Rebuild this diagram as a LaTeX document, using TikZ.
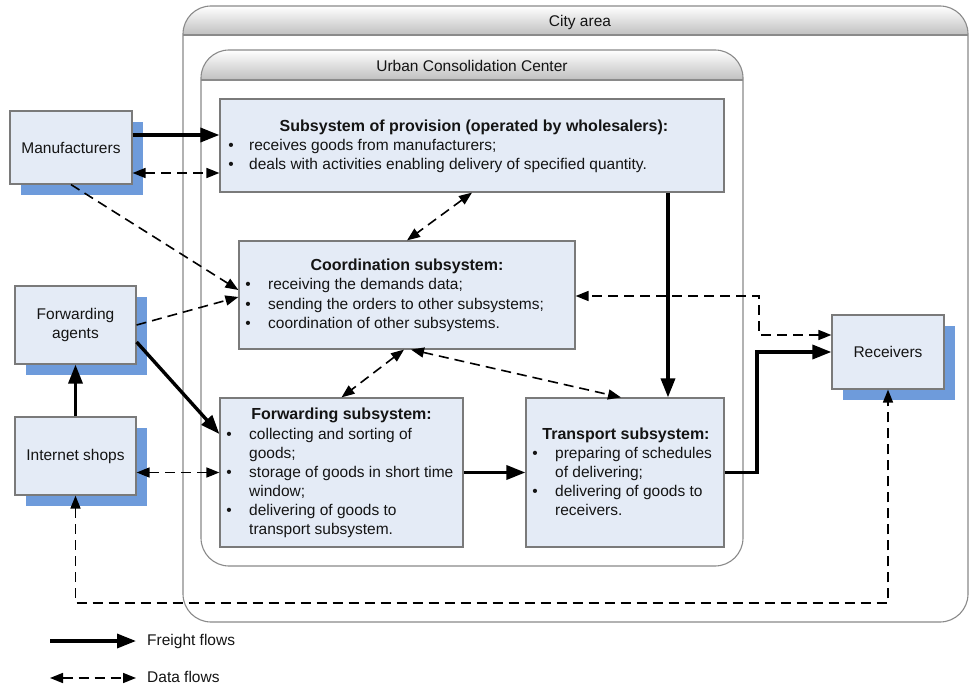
\documentclass[tikz,border=0pt]{standalone}
\usepackage{fontspec}
\setmainfont{Liberation Sans}
\usetikzlibrary{arrows.meta,shadows,calc}
\definecolor{boxfill}{HTML}{E4EBF6}
\definecolor{boxline}{HTML}{7A7A7A}
\definecolor{shadowblue}{HTML}{6E9BDB}
\definecolor{txt}{HTML}{141414}
\definecolor{frameline}{HTML}{8A8A8A}
\begin{document}
\begin{tikzpicture}[x=1pt,y=-1pt,
  font=\fontsize{15.5}{19}\selectfont, text=txt,
  box/.style={draw=boxline, fill=boxfill, line width=1.2pt, inner sep=0pt},
  ext/.style={box, align=center, drop shadow={shadow xshift=11pt, shadow yshift=-11pt, fill=shadowblue, opacity=1}},
  freight/.style={line width=3.4pt, -{Triangle[length=19pt,width=14pt]}},
  data/.style={line width=1.6pt, dash pattern=on 10pt off 6pt, {Triangle[length=13pt,width=10pt]}-{Triangle[length=13pt,width=10pt]}},
  data1/.style={line width=1.6pt, dash pattern=on 10pt off 6pt, -{Triangle[length=13pt,width=10pt]}},
  frame/.style={draw=frameline, line width=1.1pt},
  lbl/.style={anchor=base west, inner sep=0pt},
  ttl/.style={anchor=base, inner sep=0pt, font=\fontsize{16}{19}\selectfont\bfseries},
  bul/.style={anchor=base, inner sep=0pt},
  hdr/.style={anchor=base, inner sep=0pt},
]
\useasboundingbox (0,0) rectangle (970,687);
\fill[white] (0,0) rectangle (970,687);

% City area frame
\begin{scope}
  \clip[rounded corners=28pt] (183,6) rectangle (968,622);
  \shade[top color=white, bottom color=gray!50] (183,6) rectangle (968,35);
\end{scope}
\draw[frame] (183,35) -- (968,35);
\draw[frame, rounded corners=28pt] (183,6) rectangle (968,622);
\node[hdr] (cityT) at (580,27) {City area};

% Urban Consolidation Center frame
\begin{scope}
  \clip[rounded corners=28pt] (201,50) rectangle (743,566);
  \shade[top color=white, bottom color=gray!50] (201,50) rectangle (743,80);
\end{scope}
\draw[frame] (201,80) -- (743,80);
\draw[frame, rounded corners=28pt] (201,50) rectangle (743,566);
\node[hdr] (uccT) at (472,72) {Urban Consolidation Center};

% external actors
\node[ext, minimum width=122pt, minimum height=73pt] (mfr) at (71,147.5) {Manufacturers};
\node[ext, minimum width=121pt, minimum height=78pt] (agents) at (75.5,325) {Forwarding\\agents};
\node[ext, minimum width=121pt, minimum height=78pt] (shops) at (75.5,456) {Internet shops};
\node[ext, minimum width=112pt, minimum height=74pt] (recv) at (888,352) {Receivers};

% subsystems
\node[box, minimum width=504pt, minimum height=93pt] (prov) at (472,145.5) {};
\node[box, minimum width=336pt, minimum height=108pt] (coord) at (407,295) {};
\node[box, minimum width=243pt, minimum height=149pt] (fwd) at (341.5,472.5) {};
\node[box, minimum width=198pt, minimum height=149pt] (trans) at (625,472.5) {};

% provision text
\node[ttl] (provT) at (474,132) {Subsystem of provision (operated by wholesalers):};
\node[bul] (provB1) at (231,151) {•};
\node[lbl] (provL1) at (249,151) {receives goods from manufacturers;};
\node[bul] (provB2) at (231,170) {•};
\node[lbl] (provL2) at (249,170) {deals with activities enabling delivery of specified quantity.};

% coordination text
\node[ttl] (coordT) at (407,271) {Coordination subsystem:};
\node[bul] (coordB1) at (248,290) {•};
\node[lbl] (coordL1) at (268,290) {receiving the demands data;};
\node[bul] (coordB2) at (248,309) {•};
\node[lbl] (coordL2) at (268,309) {sending the orders to other subsystems;};
\node[bul] (coordB3) at (248,328) {•};
\node[lbl] (coordL3) at (268,328) {coordination of other subsystems.};

% forwarding text
\node[ttl] (fwdT) at (341.5,419) {Forwarding subsystem:};
\node[bul] (fwdB1) at (229,439) {•};
\node[lbl] (fwdL1) at (249,439) {collecting and sorting of};
\node[lbl] (fwdL2) at (249,458) {goods;};
\node[bul] (fwdB2) at (229,477) {•};
\node[lbl] (fwdL3) at (249,477) {storage of goods in short time};
\node[lbl] (fwdL4) at (249,496) {window;};
\node[bul] (fwdB3) at (229,515) {•};
\node[lbl] (fwdL5) at (249,515) {delivering of goods to};
\node[lbl] (fwdL6) at (249,534) {transport subsystem.};

% transport text
\node[ttl] (transT) at (626,439) {Transport subsystem:};
\node[bul] (transB1) at (535,458) {•};
\node[lbl] (transL1) at (555,458) {preparing of schedules};
\node[lbl] (transL2) at (555,477) {of delivering;};
\node[bul] (transB2) at (535,496) {•};
\node[lbl] (transL3) at (555,496) {delivering of goods to};
\node[lbl] (transL4) at (555,515) {receivers.};

% helper coordinates
\coordinate (yA) at (0,135);
\coordinate (yB) at (0,173);
\coordinate (yC) at (0,603);
\coordinate (xV) at (668,0);
\coordinate (xR) at (757,0);
\coordinate (yR) at (0,335);
\coordinate (yD) at (0,296);
\coordinate (xD) at (759,0);

% connectors
\draw[freight] (mfr.east |- yA) -- (prov.west |- yA);
\draw[data] (mfr.east |- yB) -- (prov.west |- yB);
\draw[data1] (mfr.south) -- ([yshift=5pt]coord.west);
\draw[data1] (agents.east) -- ([yshift=-2pt]coord.west);
\draw[freight] ([yshift=-17pt]agents.east) -- ([yshift=38.5pt]fwd.west);
\draw[freight] (shops.north) -- (agents.south);
\draw[data] (shops.east |- fwd.west) -- (fwd.west);
\draw[data] (shops.south) -- (shops.south |- yC) -- (recv.south |- yC) -- (recv.south);
\draw[data] (prov.south) -- (coord.north);
\draw[data] ([xshift=-3pt]coord.south) -- (fwd.north);
\draw[data] ([xshift=4pt]coord.south) -- ([xshift=-4pt]trans.north);
\draw[freight] (prov.south -| xV) -- (trans.north -| xV);
\draw[freight] (fwd.east) -- (trans.west);
\draw[freight] (trans.east) -- (xR |- trans.east) -- (xR |- recv.west) -- (recv.west);
\draw[data] (recv.west |- yR) -- (xD |- yR) -- (xD |- yD) -- (coord.east |- yD);

% legend
\coordinate (lf0) at (50,641);
\coordinate (lf1) at (136,641);
\coordinate (ld0) at (50,678);
\coordinate (ld1) at (136,678);
\draw[freight] (lf0) -- (lf1);
\draw[data] (ld0) -- (ld1);
\node[lbl] (legF) at (147,645) {Freight flows};
\node[lbl] (legD) at (147,682) {Data flows};
\end{tikzpicture}
\end{document}
